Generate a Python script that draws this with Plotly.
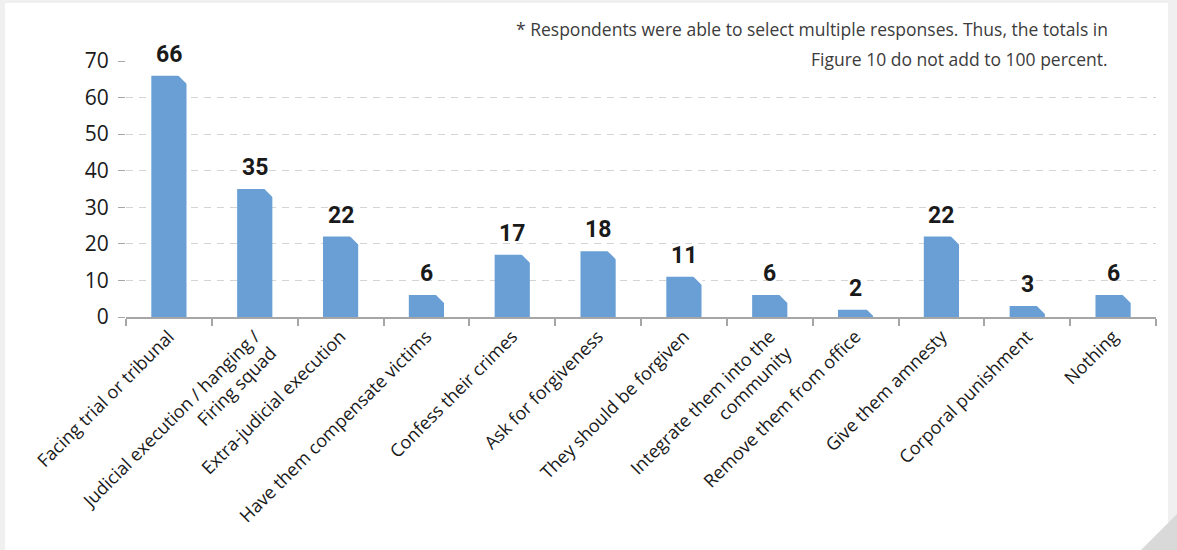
import plotly.graph_objects as go

# Survey responses (percent of respondents)
categories = [
    "Facing trial or tribunal",
    "Judicial execution / hanging /<br>Firing squad",
    "Extra-judicial execution",
    "Have them compensate victims",
    "Confess their crimes",
    "Ask for forgiveness",
    "They should be forgiven",
    "Integrate them into the<br>community",
    "Remove them from office",
    "Give them amnesty",
    "Corporal punishment",
    "Nothing",
]
values = [66, 35, 22, 6, 17, 18, 11, 6, 2, 22, 3, 6]
y_ticks = [0, 10, 20, 30, 40, 50, 60, 70]
note_lines = [
    "* Respondents were able to select multiple responses. Thus, the totals in",
    "Figure 10 do not add to 100 percent.",
]

W, H = 1177, 550
ML, MR, MT, MB = 126, 21, 61, 233
PW, PH = W - ML - MR, H - MT - MB
Y_MAX = 70
BAR_W = 0.41
BAR_COLOR = "#699fd5"


def px_to_paper_x(px):
    return (px - ML) / PW


def px_to_paper_y(py):
    return (H - MB - py) / PH


fig = go.Figure()
fig.add_trace(go.Bar(
    x=categories,
    y=values,
    width=BAR_W,
    marker=dict(color=BAR_COLOR, line=dict(width=0)),
    hoverinfo="skip",
))

shapes = []
# card background with thin grey frame
shapes.append(dict(type="rect", xref="paper", yref="paper", layer="below",
                   x0=px_to_paper_x(5), x1=px_to_paper_x(1168),
                   y0=px_to_paper_y(H + 5), y1=px_to_paper_y(3),
                   fillcolor="white", line=dict(width=0)))
# folded page corner
shapes.append(dict(type="path", xref="paper", yref="paper", layer="above",
                   path=(f"M {px_to_paper_x(1141)},{px_to_paper_y(H)} "
                         f"L {px_to_paper_x(W)},{px_to_paper_y(514)} "
                         f"L {px_to_paper_x(W)},{px_to_paper_y(H)} Z"),
                   fillcolor="#d9d9d9", line=dict(width=0)))

# bevel on the top-right corner of each bar
px_per_unit = PH / Y_MAX
for i, v in enumerate(values):
    c = min(9.0, v * px_per_unit)
    shapes.append(dict(type="path", xref="x", yref="y",
                       xsizemode="pixel", ysizemode="pixel",
                       xanchor=i + BAR_W / 2, yanchor=v,
                       path=f"M {-c:.2f},1 L 1,1 L 1,{-c:.2f} Z",
                       fillcolor="white", line=dict(width=0), layer="above"))

annotations = []
# value labels above the bars
for cat, v in zip(categories, values):
    annotations.append(dict(
        text=str(v), x=cat, y=v, xref="x", yref="y",
        xanchor="center", yanchor="bottom", yshift=6, showarrow=False,
        font=dict(family="Roboto, sans-serif", size=23, color="#1a1a1a",
                  weight="bold"),
    ))
# footnote, two right-aligned lines
for line, y_mid in zip(note_lines, [29, 59]):
    annotations.append(dict(
        text=line, xref="paper", yref="paper",
        x=px_to_paper_x(1110), y=px_to_paper_y(y_mid),
        xanchor="right", yanchor="middle", align="right", showarrow=False,
        font=dict(family="Open Sans, sans-serif", size=17.5, color="#3c3c3c"),
    ))

fig.update_layout(
    width=W, height=H,
    margin=dict(l=ML, r=MR, t=MT, b=MB),
    paper_bgcolor="#f0f0f0",
    plot_bgcolor="white",
    showlegend=False,
    shapes=shapes,
    annotations=annotations,
    font=dict(family="Open Sans, sans-serif", color="#1a1a1a"),
)

fig.update_xaxes(
    type="category",
    tickson="boundaries",
    ticks="outside", ticklen=7, tickwidth=2, tickcolor="#a6a6a6",
    showline=True, linecolor="#a6a6a6", linewidth=2,
    showgrid=False,
    tickangle=-45,
    tickfont=dict(family="Open Sans, sans-serif", size=18, color="#1a1a1a"),
)
fig.update_yaxes(
    range=[0, Y_MAX],
    tickvals=y_ticks,
    ticks="outside", ticklen=7, tickwidth=1, tickcolor="#a6a6a6",
    ticklabelstandoff=5,
    showline=False, zeroline=False,
    showgrid=True, gridcolor="#d4d4d4", gridwidth=1, griddash="7px,6px",
    tickfont=dict(family="Open Sans, sans-serif", size=21, color="#1a1a1a"),
)

fig.write_html("out.html")
